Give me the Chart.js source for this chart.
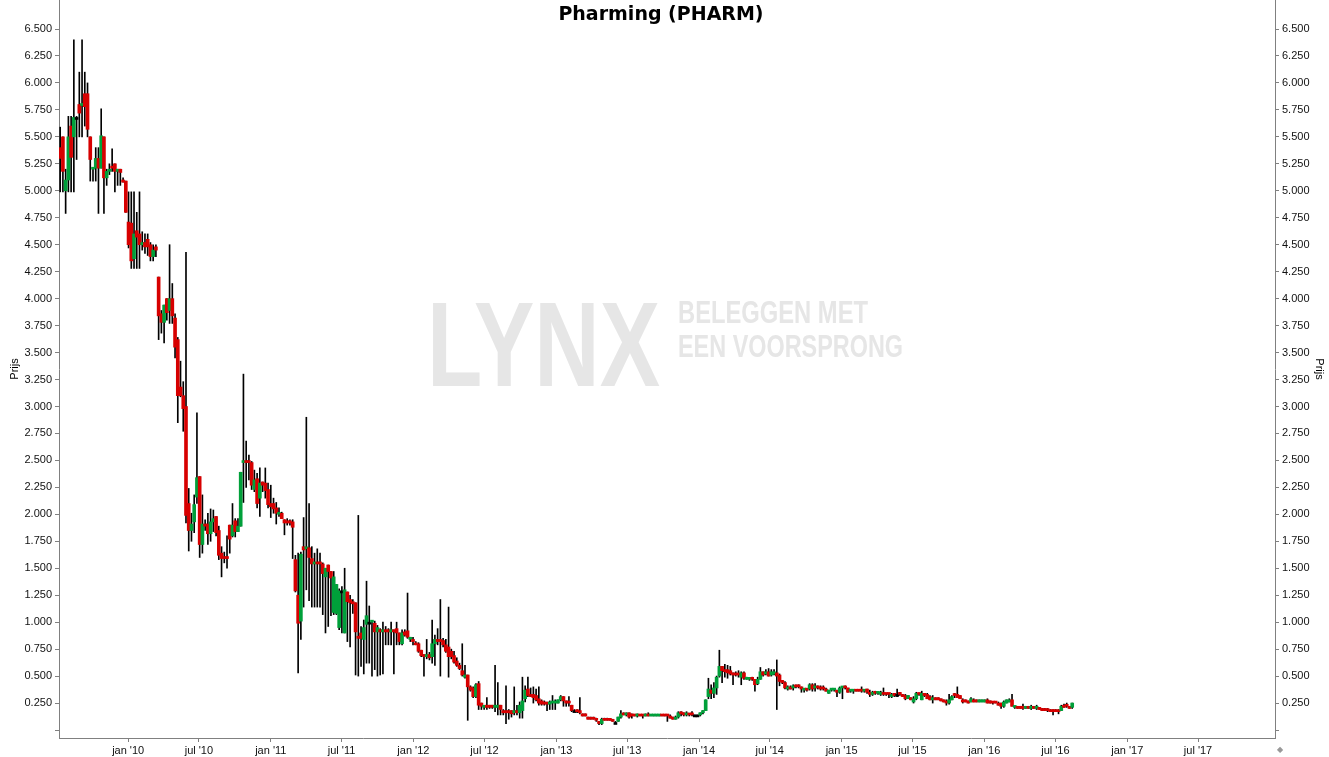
<!DOCTYPE html>
<html>
<head>
<meta charset="utf-8">
<title>Pharming (PHARM)</title>
<script src="https://cdn.jsdelivr.net/npm/chart.js@4.4.1/dist/chart.umd.min.js"></script>
<style>
  body { margin: 0; background: #fff; }
  #wrap { position: relative; width: 1329px; height: 757px; }
  #title { position: absolute; left: 461px; width: 400px; top: 4px; text-align: center;
    font: bold 19px "DejaVu Sans", Verdana, sans-serif; line-height: 19px; color: #000; }
  #corner { position: absolute; left: 1277px; top: 745px; font: 8px "DejaVu Sans", sans-serif; color: #999; }
</style>
</head>
<body>
<div id="wrap">
  <canvas id="chart" width="1329" height="757"></canvas>
  <div id="title">Pharming (PHARM)</div>
  <div id="corner">◆</div>
</div>
<script>
// weekly candles, one row per week: [open, high, low, close]
const firstWeek = "2009-07-11";

const candles2009 = [
  [5.40,5.59,4.99,5.30],[5.50,5.50,4.99,5.18],[5.00,5.20,4.79,5.10],[5.10,5.69,4.99,5.50],[5.60,5.69,4.99,5.31],
  [5.50,6.40,4.99,5.68],[5.68,5.69,5.29,5.68],[5.80,6.10,5.50,5.72],[5.79,6.40,5.50,5.81],[5.90,6.10,5.60,5.78],
  [5.90,6.00,5.50,5.57],[5.50,5.50,5.09,5.29],[5.20,5.21,5.09,5.21],[5.21,5.40,5.09,5.30],[5.30,5.40,4.79,5.21],
  [5.21,5.76,5.21,5.51],[5.50,5.50,4.79,5.12],[5.12,5.20,5.05,5.18],[5.18,5.25,5.15,5.20],[5.22,5.39,5.18,5.21],
  [5.25,5.25,4.99,5.18],[5.18,5.20,5.05,5.20],[5.20,5.20,5.05,5.17],[5.10,5.12,5.08,5.08],[5.09,5.09,4.80,4.80]
];
const candles2010 = [
  [4.71,4.99,4.47,4.50],[4.70,4.99,4.28,4.35],[4.37,4.99,4.28,4.60],[4.63,4.80,4.28,4.57],[4.60,4.99,4.28,4.50],
  [4.50,4.62,4.45,4.52],[4.52,4.60,4.42,4.48],[4.55,4.60,4.40,4.48],[4.50,4.52,4.35,4.39],[4.39,4.50,4.35,4.45],
  [4.48,4.50,4.39,4.45],[4.20,4.20,3.62,3.84],[3.86,3.89,3.68,3.78],[3.78,3.94,3.59,3.94],[4.00,4.00,3.80,3.87],
  [3.89,4.50,3.77,4.00],[4.00,4.14,3.77,3.84],[3.82,3.86,3.45,3.55],[3.62,3.64,2.85,3.10],[3.18,3.42,3.09,3.10],
  [3.10,3.23,2.77,2.98],[3.00,4.43,1.92,1.99],[2.10,2.24,1.66,1.85],[1.85,2.01,1.75,1.91],[1.93,2.18,1.83,2.09],
  [2.16,2.94,2.10,2.34],[2.35,2.35,1.60,1.72],[1.72,2.18,1.64,1.91],[1.91,1.95,1.85,1.89],[1.91,2.01,1.72,1.82],
  [1.82,2.05,1.75,1.93],[1.93,2.04,1.84,1.96],[1.98,1.98,1.80,1.83],[1.85,1.89,1.58,1.62],[1.64,1.70,1.42,1.59],
  [1.60,1.65,1.55,1.59],[1.60,1.80,1.50,1.59],[1.90,1.90,1.64,1.77],[1.80,2.10,1.79,1.90],[1.94,1.96,1.79,1.84],
  [1.84,1.96,1.84,1.89],[1.89,2.39,1.89,2.39],[2.48,3.30,2.11,2.49],[2.49,2.68,2.25,2.48],[2.49,2.55,2.32,2.48],
  [2.48,2.49,2.23,2.27],[2.23,2.41,2.21,2.32],[2.33,2.38,2.06,2.10],[2.15,2.43,1.98,2.29],[2.30,2.30,2.21,2.27],
  [2.29,2.43,2.15,2.22],[2.23,2.29,2.06,2.09]
];
const candles2011 = [
  [2.10,2.27,1.97,2.07],[2.10,2.15,2.01,2.05],[2.06,2.11,1.91,2.01],[2.00,2.06,1.98,2.01],[2.01,2.02,1.96,1.96],
  [1.95,1.95,1.81,1.92],[1.94,1.96,1.90,1.92],[1.94,1.95,1.90,1.92],[1.93,1.95,1.59,1.88],[1.58,1.62,1.28,1.29],
  [1.25,1.64,0.53,0.99],[1.01,1.65,0.84,1.63],[1.70,1.97,1.14,1.67],[1.68,2.90,1.30,1.69],[1.69,2.10,1.20,1.60],
  [1.59,1.70,1.14,1.54],[1.54,1.64,1.14,1.55],[1.55,1.68,1.14,1.54],[1.55,1.64,1.14,1.54],[1.54,1.55,1.07,1.45],
  [1.42,1.50,0.90,1.50],[1.53,1.53,0.96,1.47],[1.47,1.47,1.06,1.41],[1.09,1.47,1.07,1.42],[1.08,1.35,1.07,1.35],
  [0.95,1.31,0.93,1.29],[1.29,1.33,0.90,1.29],[0.90,1.50,0.90,1.30],[1.28,1.28,0.82,1.19],[1.21,1.25,0.77,1.18],
  [1.19,1.21,1.08,1.17],[1.18,1.18,0.51,0.91],[0.87,1.99,0.50,0.85],[0.90,0.96,0.59,0.85],[0.84,1.02,0.52,0.95],
  [0.98,1.38,0.62,1.06],[1.00,1.15,0.62,1.00],[1.00,1.01,0.50,1.01],[0.99,1.01,0.56,0.91],[0.91,0.97,0.50,0.95],
  [0.93,0.94,0.51,0.91],[0.91,1.00,0.52,0.93],[0.93,0.96,0.79,0.91],[0.93,0.94,0.79,0.91],[0.91,1.00,0.79,0.93],
  [0.93,0.93,0.52,0.91],[0.94,1.00,0.79,0.90],[0.90,0.90,0.79,0.82],[0.80,0.93,0.79,0.90],[0.91,0.93,0.87,0.88],
  [0.92,1.27,0.85,0.86],[0.84,0.86,0.82,0.86],[0.84,0.86,0.79,0.82]
];
const candles2012 = [
  [0.80,0.82,0.79,0.79],[0.80,0.81,0.72,0.73],[0.74,0.74,0.68,0.69],[0.70,0.70,0.50,0.68],[0.68,0.84,0.66,0.70],
  [0.70,0.72,0.65,0.67],[0.68,1.02,0.62,0.80],[0.80,0.88,0.60,0.84],[0.84,0.94,0.79,0.82],[0.84,1.21,0.50,0.82],
  [0.83,0.85,0.77,0.79],[0.79,0.84,0.72,0.73],[0.77,1.14,0.49,0.68],[0.73,0.75,0.66,0.68],[0.69,0.73,0.62,0.63],
  [0.64,0.67,0.59,0.60],[0.60,0.62,0.56,0.57],[0.55,0.80,0.50,0.51],[0.49,0.60,0.48,0.51],[0.51,0.51,0.09,0.40],
  [0.40,0.41,0.36,0.37],[0.39,0.40,0.30,0.31],[0.31,0.43,0.30,0.42],[0.43,0.45,0.19,0.23],[0.25,0.25,0.19,0.22],
  [0.21,0.23,0.19,0.23],[0.23,0.30,0.19,0.21],[0.23,0.23,0.20,0.21],[0.23,0.23,0.20,0.21],[0.21,0.60,0.17,0.23],
  [0.21,0.44,0.14,0.23],[0.23,0.23,0.14,0.19],[0.18,0.19,0.14,0.16],[0.18,0.41,0.06,0.16],[0.18,0.19,0.10,0.16],
  [0.18,0.18,0.12,0.15],[0.16,0.40,0.14,0.18],[0.18,0.23,0.14,0.16],[0.16,0.26,0.11,0.23],[0.18,0.49,0.11,0.27],
  [0.29,0.41,0.26,0.37],[0.38,0.49,0.31,0.32],[0.33,0.39,0.31,0.31],[0.33,0.40,0.25,0.30],[0.32,0.38,0.27,0.28],
  [0.29,0.40,0.23,0.25],[0.27,0.28,0.23,0.24],[0.26,0.27,0.23,0.24],[0.25,0.26,0.18,0.24],[0.24,0.27,0.19,0.26],
  [0.25,0.32,0.19,0.26],[0.25,0.28,0.19,0.26]
];
const candles2013 = [
  [0.25,0.28,0.25,0.28],[0.28,0.32,0.27,0.31],[0.31,0.31,0.22,0.27],[0.27,0.27,0.22,0.25],[0.26,0.31,0.22,0.25],
  [0.23,0.23,0.17,0.18],[0.18,0.19,0.17,0.18],[0.18,0.19,0.16,0.17],[0.18,0.30,0.15,0.16],[0.15,0.15,0.13,0.13],
  [0.15,0.15,0.13,0.13],[0.12,0.12,0.10,0.10],[0.11,0.12,0.10,0.10],[0.11,0.12,0.10,0.10],[0.10,0.11,0.08,0.09],
  [0.08,0.08,0.05,0.06],[0.06,0.11,0.05,0.10],[0.10,0.11,0.09,0.09],[0.10,0.11,0.09,0.09],[0.10,0.10,0.09,0.09],
  [0.09,0.10,0.08,0.08],[0.07,0.08,0.06,0.07],[0.08,0.12,0.08,0.12],[0.12,0.18,0.11,0.15],[0.15,0.16,0.14,0.14],
  [0.14,0.16,0.13,0.15],[0.16,0.16,0.11,0.12],[0.14,0.15,0.11,0.13],[0.14,0.14,0.13,0.13],[0.13,0.15,0.12,0.14],
  [0.14,0.14,0.13,0.13],[0.14,0.14,0.11,0.13],[0.13,0.15,0.13,0.14],[0.14,0.16,0.13,0.13],[0.13,0.14,0.13,0.14],
  [0.13,0.14,0.13,0.14],[0.13,0.14,0.13,0.14],[0.13,0.14,0.13,0.14],[0.14,0.14,0.13,0.13],[0.14,0.14,0.13,0.13],
  [0.14,0.14,0.08,0.13],[0.13,0.14,0.11,0.11],[0.12,0.12,0.10,0.10],[0.10,0.13,0.10,0.12],[0.12,0.17,0.11,0.16],
  [0.16,0.17,0.13,0.15],[0.16,0.16,0.13,0.14],[0.14,0.17,0.13,0.15],[0.15,0.15,0.13,0.14],[0.15,0.17,0.13,0.14],
  [0.14,0.14,0.13,0.14],[0.14,0.14,0.13,0.14]
];
const candles2014 = [
  [0.14,0.16,0.13,0.16],[0.16,0.18,0.15,0.18],[0.18,0.28,0.18,0.28],[0.31,0.48,0.29,0.38],[0.37,0.42,0.29,0.34],
  [0.34,0.44,0.30,0.39],[0.39,0.50,0.33,0.49],[0.50,0.74,0.49,0.59],[0.59,0.59,0.44,0.55],[0.56,0.61,0.49,0.54],
  [0.56,0.60,0.48,0.53],[0.55,0.59,0.51,0.52],[0.53,0.53,0.42,0.51],[0.52,0.54,0.50,0.51],[0.52,0.55,0.49,0.51],
  [0.49,0.54,0.42,0.53],[0.53,0.54,0.47,0.48],[0.47,0.49,0.47,0.48],[0.47,0.48,0.46,0.48],[0.48,0.49,0.46,0.47],
  [0.47,0.47,0.36,0.42],[0.43,0.49,0.42,0.47],[0.47,0.58,0.47,0.54],[0.54,0.54,0.50,0.51],[0.52,0.56,0.51,0.54],
  [0.54,0.57,0.50,0.50],[0.51,0.56,0.50,0.54],[0.52,0.56,0.51,0.54],[0.53,0.65,0.19,0.50],[0.51,0.52,0.41,0.45],
  [0.46,0.46,0.43,0.44],[0.44,0.45,0.38,0.39],[0.38,0.41,0.37,0.40],[0.40,0.41,0.38,0.38],[0.39,0.42,0.37,0.41],
  [0.41,0.42,0.39,0.40],[0.41,0.42,0.39,0.40],[0.40,0.40,0.35,0.38],[0.37,0.38,0.35,0.38],[0.38,0.38,0.36,0.37],
  [0.38,0.43,0.37,0.42],[0.42,0.43,0.36,0.38],[0.39,0.43,0.36,0.40],[0.40,0.41,0.38,0.39],[0.40,0.41,0.37,0.38],
  [0.39,0.41,0.37,0.38],[0.38,0.39,0.36,0.36],[0.34,0.37,0.34,0.37],[0.37,0.38,0.36,0.38],[0.37,0.38,0.36,0.38],
  [0.36,0.37,0.31,0.35],[0.35,0.40,0.34,0.39]
];
const candles2015 = [
  [0.39,0.40,0.29,0.40],[0.40,0.41,0.38,0.39],[0.39,0.39,0.35,0.35],[0.36,0.37,0.35,0.37],[0.36,0.37,0.34,0.37],
  [0.37,0.37,0.36,0.36],[0.37,0.37,0.36,0.36],[0.37,0.40,0.35,0.36],[0.36,0.37,0.35,0.37],[0.38,0.38,0.34,0.35],
  [0.35,0.37,0.31,0.33],[0.33,0.36,0.32,0.35],[0.35,0.36,0.33,0.34],[0.34,0.35,0.33,0.35],[0.33,0.36,0.32,0.35],
  [0.34,0.39,0.32,0.33],[0.34,0.34,0.32,0.33],[0.34,0.34,0.30,0.33],[0.31,0.34,0.30,0.33],[0.34,0.34,0.31,0.32],
  [0.33,0.38,0.31,0.33],[0.34,0.35,0.32,0.33],[0.33,0.33,0.31,0.31],[0.32,0.33,0.28,0.29],[0.29,0.32,0.29,0.32],
  [0.30,0.30,0.28,0.28],[0.26,0.31,0.25,0.29],[0.29,0.35,0.28,0.34],[0.34,0.34,0.32,0.33],[0.28,0.36,0.28,0.34],
  [0.34,0.34,0.31,0.32],[0.33,0.34,0.29,0.29],[0.31,0.32,0.28,0.28],[0.28,0.32,0.25,0.30],[0.30,0.30,0.28,0.28],
  [0.30,0.30,0.28,0.28],[0.29,0.29,0.27,0.27],[0.28,0.28,0.26,0.26],[0.27,0.28,0.23,0.25],[0.25,0.33,0.24,0.28],
  [0.28,0.32,0.28,0.31],[0.33,0.34,0.30,0.32],[0.33,0.40,0.30,0.30],[0.32,0.32,0.29,0.29],[0.28,0.29,0.25,0.26],
  [0.28,0.28,0.26,0.26],[0.27,0.27,0.25,0.25],[0.26,0.30,0.26,0.29],[0.28,0.29,0.26,0.26],[0.28,0.28,0.26,0.26],
  [0.26,0.28,0.26,0.28],[0.26,0.28,0.26,0.28]
];
const candles2016 = [
  [0.26,0.28,0.26,0.28],[0.28,0.29,0.25,0.25],[0.27,0.27,0.25,0.25],[0.26,0.26,0.24,0.25],[0.26,0.26,0.25,0.25],
  [0.25,0.26,0.23,0.23],[0.25,0.25,0.20,0.22],[0.22,0.27,0.21,0.26],[0.25,0.28,0.25,0.28],[0.26,0.29,0.26,0.28],
  [0.28,0.33,0.22,0.22],[0.21,0.22,0.20,0.22],[0.22,0.22,0.20,0.20],[0.22,0.22,0.20,0.20],[0.22,0.24,0.19,0.20],
  [0.20,0.22,0.20,0.22],[0.22,0.22,0.20,0.20],[0.20,0.23,0.19,0.22],[0.22,0.22,0.20,0.20],[0.20,0.23,0.19,0.22],
  [0.21,0.21,0.19,0.19],[0.20,0.20,0.18,0.18],[0.20,0.20,0.18,0.18],[0.19,0.20,0.17,0.18],[0.18,0.19,0.17,0.17],
  [0.19,0.19,0.14,0.17],[0.18,0.19,0.17,0.17],[0.18,0.19,0.15,0.17],[0.18,0.23,0.18,0.22],[0.23,0.24,0.21,0.21],
  [0.23,0.25,0.21,0.22],[0.22,0.22,0.20,0.20],[0.21,0.25,0.20,0.25]
];

// x axis: half-year ticks
const tickDates = ["2010-01-01","2010-07-01","2011-01-01","2011-07-01","2012-01-01","2012-07-01",
  "2013-01-01","2013-07-01","2014-01-01","2014-07-01","2015-01-01","2015-07-01",
  "2016-01-01","2016-07-01","2017-01-01","2017-07-01"];
const tickLabels = ["jan '10","jul '10","jan '11","jul '11","jan '12","jul '12","jan '13","jul '13",
  "jan '14","jul '14","jan '15","jul '15","jan '16","jul '16","jan '17","jul '17"];
const xStart = "2009-07-08";
const xEnd = "2018-01-14";
const yMin = -0.074;
const yMax = 6.769;
const yTopTick = 6.5;

const GREEN = "#00a03a";
const RED = "#d70000";
const AXIS = "#808080";
const tickFont = { family: "'Liberation Sans', Arial, sans-serif", size: 11 };

const DAY = 86400000;
const epoch = Date.UTC(2010, 0, 1);
function dayOf(s) { return (Date.parse(s) - epoch) / DAY; }

const candles = [].concat(candles2009, candles2010, candles2011, candles2012,
  candles2013, candles2014, candles2015, candles2016);
const start = dayOf(firstWeek);
const wicks = candles.map((c, i) => ({ x: start + 7 * i, y: [c[2], c[1]] }));
const bodies = candles.map((c, i) => ({ x: start + 7 * i, y: [c[0], c[3]] }));
const bodyColors = candles.map(c => c[3] > c[0] ? GREEN : (c[3] < c[0] ? RED : "#000"));

// LYNX watermark behind the candles
const watermark = {
  id: "watermark",
  beforeDatasetsDraw(chart) {
    const ctx = chart.ctx;
    ctx.save();
    ctx.fillStyle = "#e6e6e6";
    ctx.textBaseline = "alphabetic";
    ctx.font = "bold 120px 'Liberation Sans', Arial, sans-serif";
    ctx.fillText("LYNX", 427, 386, 233);
    ctx.font = "bold 32px 'Liberation Sans', Arial, sans-serif";
    ctx.fillText("BELEGGEN MET", 678, 323, 190);
    ctx.fillText("EEN VOORSPRONG", 678, 357, 225);
    ctx.restore();
  }
};

// axes keep a fixed size and no label padding, so the plot runs to the top edge
function pinSize(s, w, h) {
  if (w) s.width = w;
  if (h) s.height = h;
  s.paddingTop = 0;
  s.paddingBottom = 0;
  s.paddingLeft = 0;
  s.paddingRight = 0;
}

function priceAxis(pos, width, titlePad) {
  return {
    position: pos,
    min: yMin,
    max: yMax,
    afterBuildTicks: s => { s.ticks = s.ticks.filter(t => t.value <= yTopTick + 0.001); },
    afterFit: s => pinSize(s, width, 0),
    ticks: {
      stepSize: 0.25,
      includeBounds: false,
      font: tickFont,
      color: "#111",
      padding: 3,
      callback: v => v < 0.01 ? "" : v.toFixed(3)
    },
    grid: { drawOnChartArea: false, tickLength: 4, color: AXIS },
    border: { color: AXIS },
    title: { display: true, text: "Prijs", font: tickFont, color: "#000", padding: { top: titlePad, bottom: 0 } }
  };
}

new Chart(document.getElementById("chart"), {
  type: "bar",
  data: {
    datasets: [
      { label: "wick", data: wicks, backgroundColor: "#000", barThickness: 1, minBarLength: 1, grouped: false, order: 2 },
      { label: "body", data: bodies, backgroundColor: bodyColors, barThickness: 3, minBarLength: 2, grouped: false, order: 1 }
    ]
  },
  options: {
    responsive: false,
    animation: false,
    layout: { padding: 0 },
    plugins: { legend: { display: false }, tooltip: { enabled: false } },
    scales: {
      x: {
        type: "linear",
        min: dayOf(xStart),
        max: dayOf(xEnd),
        offset: false,
        afterBuildTicks: s => { s.ticks = tickDates.map(d => ({ value: dayOf(d) })); },
        afterFit: s => pinSize(s, 0, 19),
        ticks: { font: tickFont, color: "#111", padding: 2, maxRotation: 0, autoSkip: false,
          callback: (v, i) => tickLabels[i] },
        grid: { offset: false, drawOnChartArea: false, tickLength: 4, color: AXIS },
        border: { color: AXIS }
      },
      y: priceAxis("left", 59, 8),
      y2: priceAxis("right", 54, 3)
    }
  },
  plugins: [watermark]
});
</script>
</body>
</html>
